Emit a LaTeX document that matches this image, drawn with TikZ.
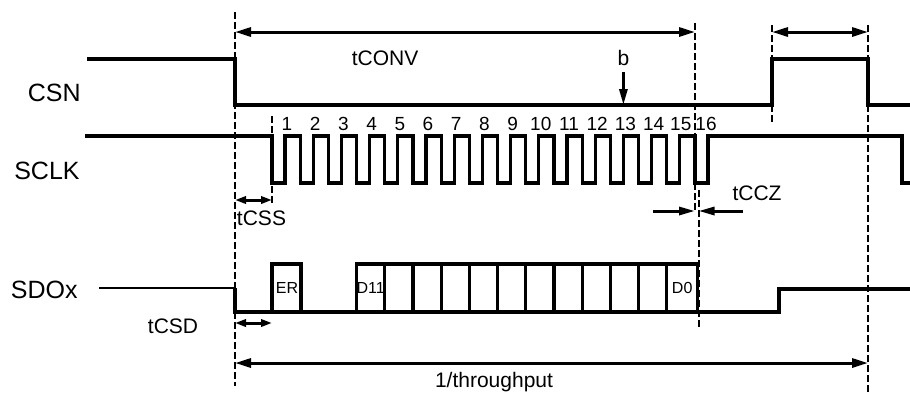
\documentclass[tikz,border=0pt]{standalone}
\usepackage{fontspec}
\setmainfont{Liberation Sans}
\usetikzlibrary{arrows.meta}

\begin{document}
\begin{tikzpicture}[
    x=0.5pt, y=-0.5pt,
    % Core styles: signal traces, guide lines, dimension arrows
    sig/.style={line width=1.6pt, line join=miter},
    thinsig/.style={line width=1.2pt},
    guide/.style={line width=1pt, dash pattern=on 3.5pt off 1.5pt},
    dim/.style={line width=1.5pt, {Triangle[length=8pt, width=4.5pt]}-{Triangle[length=8pt, width=4.5pt]}},
    dimsmall/.style={line width=1.5pt, {Triangle[length=5.5pt, width=3.6pt]}-{Triangle[length=5.5pt, width=3.6pt]}},
    pointer/.style={line width=1.5pt, -{Triangle[length=8pt, width=4pt]}},
    sname/.style={font=\fontsize{12.5}{15}\selectfont, anchor=base east, inner sep=0pt},
    ann/.style={font=\fontsize{10.5}{12}\selectfont, anchor=base, inner sep=0pt},
    num/.style={font=\fontsize{9.5}{11}\selectfont, anchor=base, inner sep=0pt},
    bit/.style={font=\fontsize{8}{9}\selectfont, inner sep=0pt}
  ]

  % Bounding box locked to the 910 x 392 frame
  \useasboundingbox (0,0) rectangle (910,392);

  % ---------------------------------------------------------
  % TIMING MARKS (dashed guides)
  % ---------------------------------------------------------
  \coordinate (csfall) at (235,12);
  \coordinate (cssend) at (272,116);
  \coordinate (convend) at (695,23);
  \coordinate (czend) at (698.5,190);
  \coordinate (csrise) at (772,25);
  \coordinate (csback) at (868,25);

  \draw[guide] (csfall) -- (235,386);
  \draw[guide] (cssend) -- (272,203);
  \draw[guide] (convend) -- (695,213);
  \draw[guide] (czend) -- (698.5,327);
  \draw[guide] (csrise) -- (772,125);
  \draw[guide] (csback) -- (868,392);

  % ---------------------------------------------------------
  % SIGNAL NAMES
  % ---------------------------------------------------------
  \node[sname] (csn) at (81,101) {CSN};
  \node[sname] (sclk) at (80,179) {SCLK};
  \node[sname] (sdox) at (78,298) {SDOx};

  % ---------------------------------------------------------
  % CSN
  % ---------------------------------------------------------
  \draw[sig] (87,59) -| (235,105) -| (772,59) -| (868,105) -- (912,105);

  % ---------------------------------------------------------
  % SCLK: 16 pulses, falling edges 28.2 apart
  % ---------------------------------------------------------
  \draw[sig] (85,136) -| (272,183) -| (285,136)
    -| (300.2,183) -| (313.2,136) -| (328.4,183) -| (341.4,136)
    -| (356.6,183) -| (369.6,136) -| (384.8,183) -| (397.8,136)
    -| (413,183) -| (426,136) -| (441.2,183) -| (454.2,136)
    -| (469.4,183) -| (482.4,136) -| (497.6,183) -| (510.6,136)
    -| (525.8,183) -| (538.8,136) -| (554,183) -| (567,136)
    -| (582.2,183) -| (595.2,136) -| (610.4,183) -| (623.4,136)
    -| (638.6,183) -| (651.6,136) -| (666.8,183) -| (679.8,136)
    -| (695,183) -| (708,136) -| (902,183) -- (912,183);

  % clock numbers
  \node[num] (n1) at (287,130) {1};
  \node[num] (n2) at (315.2,130) {2};
  \node[num] (n3) at (343.4,130) {3};
  \node[num] (n4) at (371.6,130) {4};
  \node[num] (n5) at (399.8,130) {5};
  \node[num] (n6) at (428,130) {6};
  \node[num] (n7) at (456.2,130) {7};
  \node[num] (n8) at (484.4,130) {8};
  \node[num] (n9) at (512.6,130) {9};
  \node[num] (n10) at (540.8,130) {10};
  \node[num] (n11) at (569,130) {11};
  \node[num] (n12) at (597.2,130) {12};
  \node[num] (n13) at (625.4,130) {13};
  \node[num] (n14) at (653.6,130) {14};
  \node[num] (n15) at (680.8,130) {15};
  \node[num] (n16) at (706,130) {16};

  % ---------------------------------------------------------
  % SDOx
  % ---------------------------------------------------------
  \draw[thinsig] (99,288) -- (235,288);
  \draw[sig] (235,288) |- (779,312) |- (912,289);

  % ER bit
  \draw[sig] (272,312) |- (301,264) -- (301,312);
  \node[bit] (er) at (287,288) {ER};

  % data bits D11 ... D0
  \draw[sig] (356.6,264) rectangle (697.5,312);
  \draw[sig] (384.8,264) -- (384.8,312);
  \draw[sig] (413,264) -- (413,312);
  \draw[sig] (441.2,264) -- (441.2,312);
  \draw[sig] (469.4,264) -- (469.4,312);
  \draw[sig] (497.6,264) -- (497.6,312);
  \draw[sig] (525.8,264) -- (525.8,312);
  \draw[sig] (554,264) -- (554,312);
  \draw[sig] (582.2,264) -- (582.2,312);
  \draw[sig] (610.4,264) -- (610.4,312);
  \draw[sig] (638.6,264) -- (638.6,312);
  \draw[sig] (666.8,264) -- (666.8,312);
  \node[bit] (d11) at (370.7,288) {D11};
  \node[bit] (d0) at (682.2,288) {D0};

  % ---------------------------------------------------------
  % DIMENSIONS
  % ---------------------------------------------------------
  \coordinate (convL) at (235,32);
  \coordinate (convR) at (695,32);
  \coordinate (hiL) at (772,32);
  \coordinate (hiR) at (868,32);
  \coordinate (cssL) at (235,200);
  \coordinate (cssR) at (272,200);
  \coordinate (csdL) at (235,323);
  \coordinate (csdR) at (272,323);
  \coordinate (thrL) at (235,363);
  \coordinate (thrR) at (868,363);
  \coordinate (bTop) at (623.4,72);
  \coordinate (bTip) at (623.4,105);
  \coordinate (czL) at (653,211);
  \coordinate (czLtip) at (695,211);
  \coordinate (czR) at (743,211);
  \coordinate (czRtip) at (698.5,211);

  \draw[dim] (convL) -- (convR);
  \draw[dim] (hiL) -- (hiR);
  \draw[dim] (thrL) -- (thrR);
  \draw[dimsmall] (cssL) -- (cssR);
  \draw[dimsmall] (csdL) -- (csdR);
  \draw[pointer] (bTop) -- (bTip);
  \draw[pointer] (czL) -- (czLtip);
  \draw[pointer] (czR) -- (czRtip);

  \node[ann] (tconv) at (385,65) {tCONV};
  \node[ann] (bmark) at (623.4,65) {b};
  \node[ann] (tcss) at (261.5,225) {tCSS};
  \node[ann] (tcsd) at (173,333) {tCSD};
  \node[ann] (tccz) at (757,200) {tCCZ};
  \node[ann] (thr) at (494,387) {1/throughput};

\end{tikzpicture}
\end{document}
